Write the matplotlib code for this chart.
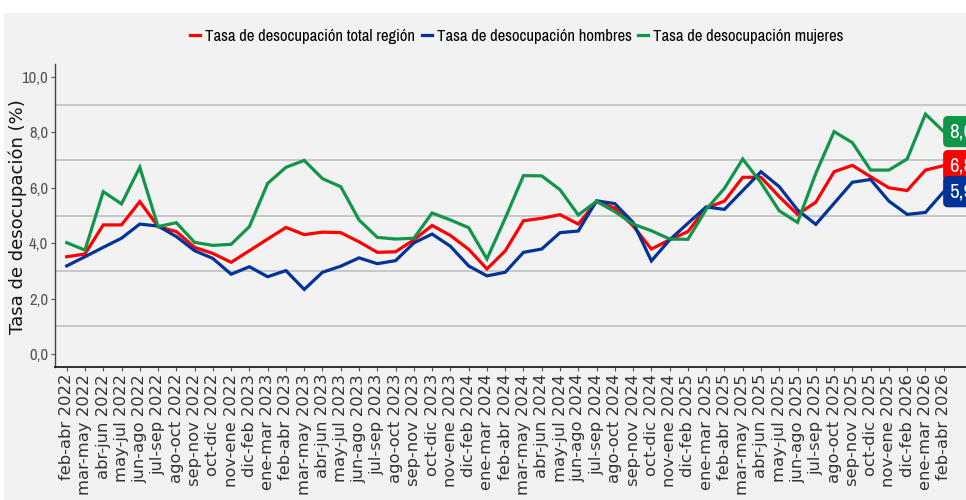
import matplotlib
matplotlib.use("Agg")
import matplotlib.pyplot as plt
from matplotlib import font_manager
from matplotlib.patches import Rectangle

# Data
periods = [
    "feb-abr 2022", "mar-may 2022", "abr-jun 2022", "may-jul 2022", "jun-ago 2022",
    "jul-sep 2022", "ago-oct 2022", "sep-nov 2022", "oct-dic 2022", "nov-ene 2022",
    "dic-feb 2023", "ene-mar 2023", "feb-abr 2023", "mar-may 2023", "abr-jun 2023",
    "may-jul 2023", "jun-ago 2023", "jul-sep 2023", "ago-oct 2023", "sep-nov 2023",
    "oct-dic 2023", "nov-ene 2023", "dic-feb 2024", "ene-mar 2024", "feb-abr 2024",
    "mar-may 2024", "abr-jun 2024", "may-jul 2024", "jun-ago 2024", "jul-sep 2024",
    "ago-oct 2024", "sep-nov 2024", "oct-dic 2024", "nov-ene 2024", "dic-feb 2025",
    "ene-mar 2025", "feb-abr 2025", "mar-may 2025", "abr-jun 2025", "may-jul 2025",
    "jun-ago 2025", "jul-sep 2025", "ago-oct 2025", "sep-nov 2025", "oct-dic 2025",
    "nov-ene 2025", "dic-feb 2026", "ene-mar 2026", "feb-abr 2026",
]

total = [3.51, 3.61, 4.66, 4.66, 5.50, 4.60, 4.42, 3.85, 3.63, 3.31,
         3.73, 4.15, 4.57, 4.31, 4.40, 4.38, 4.05, 3.67, 3.69, 4.12,
         4.64, 4.28, 3.78, 3.07, 3.72, 4.81, 4.90, 5.03, 4.69, 5.50,
         5.27, 4.62, 3.79, 4.12, 4.42, 5.27, 5.52, 6.38, 6.38, 5.68,
         5.04, 5.48, 6.58, 6.81, 6.40, 6.00, 5.90, 6.64, 6.80]

hombres = [3.18, 3.51, 3.85, 4.18, 4.69, 4.62, 4.24, 3.73, 3.45, 2.88,
           3.15, 2.79, 3.01, 2.33, 2.95, 3.17, 3.47, 3.26, 3.37, 4.01,
           4.33, 3.89, 3.18, 2.82, 2.95, 3.67, 3.79, 4.38, 4.44, 5.53,
           5.43, 4.75, 3.36, 4.12, 4.72, 5.31, 5.22, 5.90, 6.58, 6.04,
           5.20, 4.68, 5.44, 6.20, 6.30, 5.52, 5.04, 5.11, 5.86]

mujeres = [4.02, 3.75, 5.86, 5.42, 6.74, 4.60, 4.74, 4.03, 3.92, 3.96,
           4.60, 6.16, 6.74, 6.99, 6.33, 6.04, 4.84, 4.21, 4.15, 4.18,
           5.09, 4.84, 4.56, 3.43, 4.90, 6.44, 6.43, 5.93, 5.02, 5.51,
           5.14, 4.69, 4.45, 4.15, 4.14, 5.22, 5.98, 7.04, 6.18, 5.17,
           4.75, 6.52, 8.03, 7.63, 6.64, 6.64, 7.04, 8.66, 8.03]

series_names = ["Tasa de desocupación total región",
                "Tasa de desocupación hombres",
                "Tasa de desocupación mujeres"]
series_colors = ["#ff0000", "#003399", "#119548"]

# rotated texts in the reference look stretched, DejaVu's wider glyphs fit them best
wide = ["DejaVu Sans"]

# the reference uses a condensed face for horizontal text; use one if installed
condensed = [f.name for f in font_manager.fontManager.ttflist
             if "Narrow" in f.name or "Condensed" in f.name]
if condensed:
    narrow = [condensed[0], "DejaVu Sans"]
    small_scale = 1.0
else:
    narrow = ["Liberation Sans", "DejaVu Sans"]
    small_scale = 0.83

bg = "#f2f2f2"

fig = plt.figure(figsize=(9.66, 5.0), dpi=100)
fig.patch.set_facecolor("white")
# grey panel behind everything (white strip at top/left edge)
fig.patches.append(Rectangle((4 / 966, 0), 1, 1 - 13 / 500, transform=fig.transFigure,
                             facecolor=bg, edgecolor="none", zorder=-10))

ax = fig.add_axes([55 / 966, 133 / 500, 1 - 55 / 966, 303 / 500])
ax.set_facecolor(bg)

x = list(range(len(periods)))
for vals, name, col in zip([total, hombres, mujeres], series_names, series_colors):
    ax.plot(x, vals, color=col, lw=2.3, label=name, solid_joinstyle="miter", zorder=3)

# value labels at the end of each line (cut by the right edge, as in the reference)
for vals, col in zip([total, hombres, mujeres], series_colors):
    txt = f"{vals[-1]:.1f}".replace(".", ",")
    ax.annotate(txt, xy=(x[-1], vals[-1]), xytext=(4, 0), textcoords="offset points",
                ha="left", va="center", color="white", fontsize=15 * small_scale,
                family=narrow, annotation_clip=False, zorder=5,
                bbox=dict(boxstyle="round,pad=0.26,rounding_size=0.2", fc=col, ec=col))

ax.set_xlim(-0.64, 49.22)
ax.set_ylim(-0.47, 10.47)

ax.set_yticks([0, 2, 4, 6, 8, 10])
ax.set_yticklabels([f"{v:.1f}".replace(".", ",") for v in [0, 2, 4, 6, 8, 10]],
                   family=narrow, fontsize=12 * small_scale, color="#555555")
ax.set_yticks([1, 3, 5, 7, 9], minor=True)
ax.grid(which="minor", axis="y", color="#c4c4c4", lw=1.3)
ax.tick_params(axis="y", which="minor", length=0)
ax.tick_params(axis="y", which="major", length=3, width=0.8, color="#555555", pad=2)

ax.set_xticks(x)
ax.set_xticklabels(periods, rotation=90, family=wide, fontsize=11.8, color="#333333")
ax.tick_params(axis="x", length=3, width=0.8, color="#555555", pad=2)

for s in ["top", "right"]:
    ax.spines[s].set_visible(False)
ax.spines["left"].set_color("#444444")
ax.spines["left"].set_linewidth(1.0)
ax.spines["bottom"].set_color("#222222")
ax.spines["bottom"].set_linewidth(1.3)

fig.text(18 / 966, 1 - 217 / 500, "Tasa de desocupación (%)", rotation=90,
         ha="center", va="center", fontsize=13, family=wide, color="#111111")

fig.legend(loc="center", bbox_to_anchor=(517 / 966, 1 - 36 / 500), ncol=3, frameon=False,
           handlelength=0.6, handletextpad=0.3, columnspacing=0.4,
           prop={"family": narrow, "size": 12 * small_scale})

fig.savefig("out.png", dpi=100, facecolor=fig.get_facecolor())
